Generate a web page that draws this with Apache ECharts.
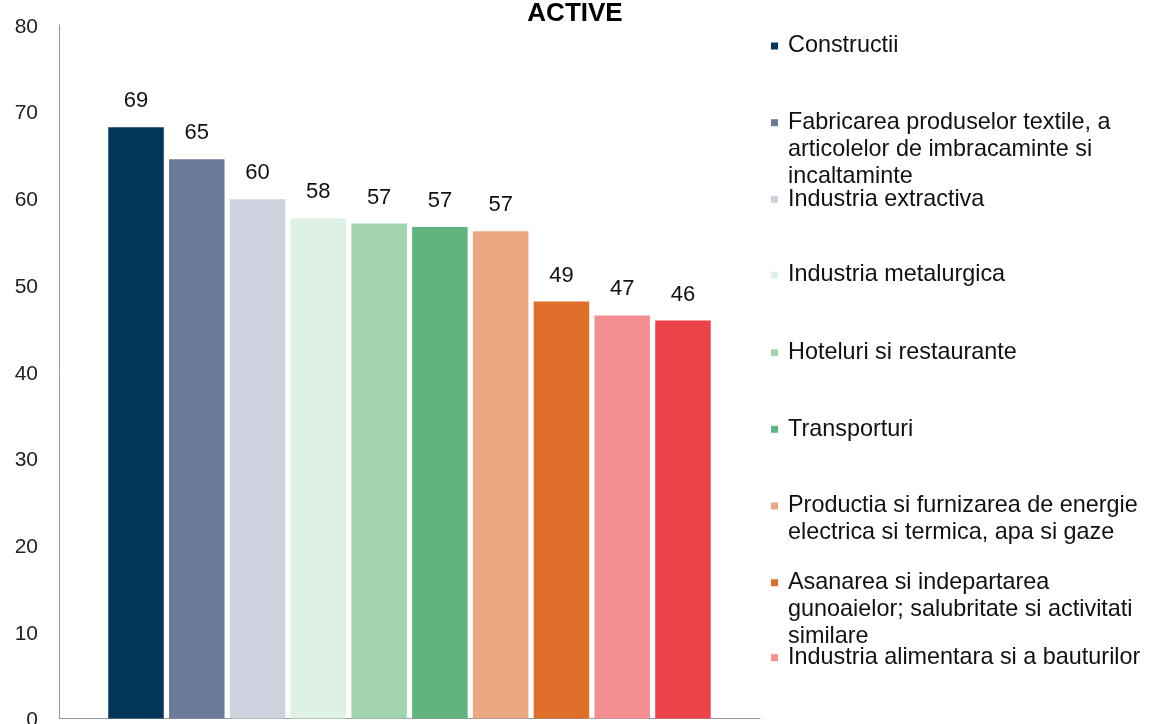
<!DOCTYPE html>
<html>
<head>
<meta charset="utf-8">
<script src="https://cdn.jsdelivr.net/npm/echarts@6/dist/echarts.min.js"></script>
<style>
html,body{margin:0;padding:0;background:#fff;overflow:hidden;width:100%;height:100%;}
#chart{width:1150px;height:724px;position:absolute;left:0;top:0;}
</style>
</head>
<body>
<div id="chart"></div>
<script>
const seriesNames = [
  'Constructii',
  'Fabricarea produselor textile, a articolelor de imbracaminte si incaltaminte',
  'Industria extractiva',
  'Industria metalurgica',
  'Hoteluri si restaurante',
  'Transporturi',
  'Productia si furnizarea de energie electrica si termica, apa si gaze',
  'Asanarea si indepartarea gunoaielor; salubritate si activitati similare',
  'Industria alimentara si a bauturilor',
  ''
];
const legendLines = [
  ['Constructii'],
  ['Fabricarea produselor textile, a', 'articolelor de imbracaminte si', 'incaltaminte'],
  ['Industria extractiva'],
  ['Industria metalurgica'],
  ['Hoteluri si restaurante'],
  ['Transporturi'],
  ['Productia si furnizarea de energie', 'electrica si termica, apa si gaze'],
  ['Asanarea si indepartarea', 'gunoaielor; salubritate si activitati', 'similare'],
  ['Industria alimentara si a bauturilor']
];
const values = [68.2, 64.5, 59.9, 57.7, 57.1, 56.7, 56.2, 48.1, 46.5, 45.9];
const valueLabels = ['69', '65', '60', '58', '57', '57', '57', '49', '47', '46'];
const colors = ['#03355B', '#6B7A9A', '#CDD2DE', '#DFF1E5', '#A2D5AE', '#62B47F', '#ECA881', '#DF6E2B', '#F38F91', '#EB4349'];
const yTicks = [0, 10, 20, 30, 40, 50, 60, 70, 80];

const chart = echarts.init(document.getElementById('chart'), null, {renderer: 'canvas', width: 1150, height: 724});

const LH = 27;
const legendY = [46, 122.7, 199.3, 275, 352.7, 429.3, 506, 582.7, 657.7];
const legends = legendLines.map((lines, i) => {
  const n = lines.length;
  const m = 2 * n - 1;
  return {
    data: [seriesNames[i]],
    left: 771,
    top: legendY[i] - m * LH / 2,
    padding: 0,
    orient: 'vertical',
    icon: 'rect',
    itemWidth: 7,
    itemHeight: 7,
    selectedMode: false,
    formatter: function () {
      const pre = [];
      for (let k = 0; k < n - 1; k++) pre.push(' ');
      return pre.concat(lines).join('\n');
    },
    textStyle: {
      fontFamily: 'Liberation Sans, Arial, sans-serif',
      fontSize: 23.4,
      lineHeight: LH,
      color: '#111',
      padding: [0, 0, 0, 5]
    }
  };
});

const series = values.map((v, i) => ({
  name: seriesNames[i],
  type: 'bar',
  data: [v],
  barWidth: 55.5,
  barGap: '9.5%',
  itemStyle: {color: colors[i]},
  label: {
    show: true,
    position: 'top',
    distance: 15,
    formatter: function () { return valueLabels[i]; },
    fontFamily: 'Liberation Sans, Arial, sans-serif',
    fontSize: 22,
    lineHeight: 22,
    color: '#111'
  }
}));

chart.setOption({
  animation: false,
  backgroundColor: '#fff',
  title: {
    text: 'ACTIVE',
    left: 'center',
    top: 1,
    padding: 0,
    textStyle: {
      fontFamily: 'Liberation Sans, Arial, sans-serif',
      fontWeight: 'bold',
      fontSize: 26,
      lineHeight: 26,
      color: '#000'
    }
  },
  legend: legends,
  grid: {left: 59, top: 25, width: 701, height: 693.5, containLabel: false, outerBoundsMode: 'none'},
  xAxis: {
    type: 'category',
    data: [''],
    axisLine: {show: true, lineStyle: {color: '#999', width: 1}},
    axisTick: {show: false},
    axisLabel: {show: false},
    splitLine: {show: false}
  },
  yAxis: {
    type: 'value',
    min: yTicks[0],
    max: yTicks[yTicks.length - 1],
    interval: yTicks[1] - yTicks[0],
    axisLine: {show: true, lineStyle: {color: '#999', width: 1}},
    axisTick: {show: false},
    splitLine: {show: false},
    axisLabel: {
      margin: 21,
      formatter: function (v) { return '{a|' + v + '}'; },
      rich: {
        a: {
          fontFamily: 'Liberation Sans, Arial, sans-serif',
          fontSize: 21,
          lineHeight: 21,
          color: '#222',
          padding: [4, 0, 0, 0]
        }
      }
    }
  },
  series: series
});
</script>
</body>
</html>
